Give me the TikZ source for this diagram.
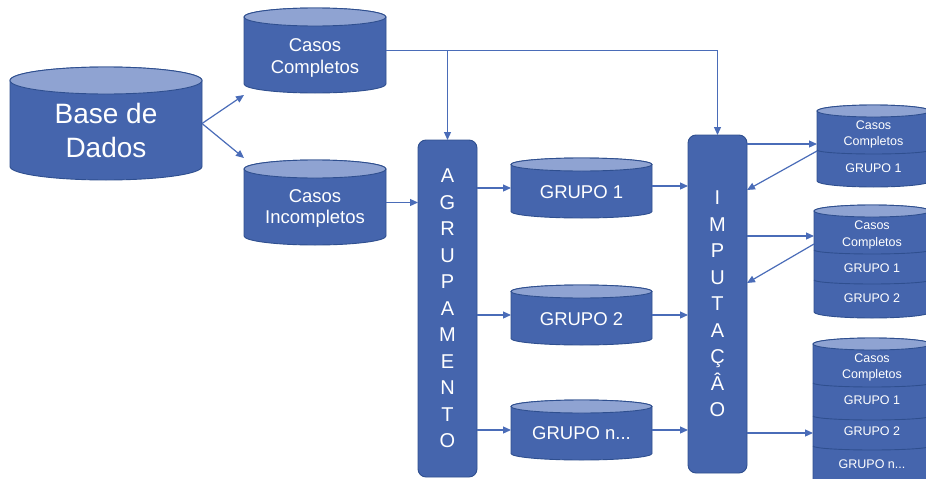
\documentclass[tikz,border=0pt]{standalone}
\usepackage{fontspec}
\setmainfont{Liberation Sans}
\usetikzlibrary{arrows.meta,calc}
\definecolor{bodyc}{HTML}{4565AD}
\definecolor{topc}{HTML}{8FA3D2}
\definecolor{edgec}{HTML}{2F4F8F}
\definecolor{linkc}{HTML}{4A6CB8}
\newcommand\cylshape[2]{%
  \path[draw=edgec, fill=bodyc, line width=0.9pt] let \p1=(#1.north west), \p2=(#1.south east), \n1={(\x2-\x1)/2} in
    (\x1,\y1-#2) -- (\x1,\y2+#2) arc[start angle=180, end angle=360, x radius=\n1, y radius=#2]
    -- (\x2,\y1-#2) arc[start angle=0, end angle=180, x radius=\n1, y radius=#2] -- cycle;
  \path[draw=edgec, fill=topc, line width=0.9pt] let \p1=(#1.north west), \p2=(#1.south east), \n1={(\x2-\x1)/2} in
    (\x1+\n1,\y1-#2) ellipse[x radius=\n1, y radius=#2];
}
\newcommand\cyldiv[2]{%
  \path[draw=edgec, line width=0.9pt] let \p1=(#1.north west), \p2=(#1.south east), \n1={(\x2-\x1)/2} in
    (\x1,-#2pt+2pt) arc[start angle=180, end angle=360, x radius=\n1, y radius=4pt];
}
\tikzset{
  sb/.style={inner sep=0pt, outer sep=0pt},
  txt/.style={inner sep=0pt, text=white, align=center},
  bigtxt/.style={txt, font=\fontsize{28}{34}\selectfont},
  midtxt/.style={txt, font=\fontsize{18.5}{21.5}\selectfont},
  smalltxt/.style={txt, font=\fontsize{12.5}{16}\selectfont},
  procbox/.style={draw=edgec, fill=bodyc, rounded corners=8pt, line width=0.9pt, text=white,
    inner sep=0pt, outer sep=0pt, minimum width=59pt, align=center, font=\fontsize{20}{26.5}\selectfont},
  arr/.style={draw=linkc, line width=1.2pt, -{Triangle[length=8pt,width=7pt]}},
}
\begin{document}
\begin{tikzpicture}[x=1pt,y=-1pt]
\useasboundingbox (0,0) rectangle (926,479);
% cylinder frames
\node[sb, minimum width=192pt, minimum height=113pt] (bd) at (106,123.5) {};
\node[sb, minimum width=142pt, minimum height=85pt] (cc) at (315,50.5) {};
\node[sb, minimum width=142pt, minimum height=85pt] (ci) at (315,202.5) {};
\node[sb, minimum width=141pt, minimum height=60pt] (g1) at (581.5,188) {};
\node[sb, minimum width=141pt, minimum height=60pt] (g2) at (581.5,315) {};
\node[sb, minimum width=141pt, minimum height=60pt] (gn) at (581.5,430) {};
\node[sb, minimum width=113pt, minimum height=82pt] (r1) at (873.5,146) {};
\node[sb, minimum width=116pt, minimum height=113pt] (r2) at (872,261.5) {};
\node[sb, minimum width=118pt, minimum height=162pt] (r3) at (872,419) {};
\cylshape{bd}{13.5pt}
\cylshape{cc}{9pt}
\cylshape{ci}{9pt}
\cylshape{g1}{6.5pt}
\cylshape{g2}{6.5pt}
\cylshape{gn}{6.5pt}
\cylshape{r1}{6pt}
\cylshape{r2}{6pt}
\cylshape{r3}{6pt}
\cyldiv{r1}{152}
\cyldiv{r2}{252}
\cyldiv{r2}{282}
\cyldiv{r3}{385}
\cyldiv{r3}{418}
\cyldiv{r3}{448}
% texts
\node[bigtxt] (bdt) at (106,130) {Base de\\Dados};
\node[midtxt] (cct) at (315,58.2) {Casos\\Completos};
\node[midtxt] (cit) at (315,208.5) {Casos\\Incompletos};
\node[midtxt] (g1t) at (581.5,192) {GRUPO 1};
\node[midtxt] (g2t) at (581.5,318.7) {GRUPO 2};
\node[midtxt] (gnt) at (581.5,433.3) {GRUPO n...};
\node[smalltxt] (r1t) at (873.5,134.3) {Casos\\Completos};
\node[smalltxt] (r1a) at (873.5,168) {GRUPO 1};
\node[smalltxt, font=\fontsize{12.5}{17}\selectfont] (r2t) at (872,234.8) {Casos\\Completos};
\node[smalltxt] (r2a) at (872,268) {GRUPO 1};
\node[smalltxt] (r2b) at (872,298) {GRUPO 2};
\node[smalltxt] (r3t) at (872,367.3) {Casos\\Completos};
\node[smalltxt] (r3a) at (872,400) {GRUPO 1};
\node[smalltxt] (r3b) at (872,431) {GRUPO 2};
\node[smalltxt] (r3c) at (872,464) {GRUPO n...};
% process boxes
\node[procbox, minimum height=337pt] (agr) at (447.5,308.5) {A\\G\\R\\U\\P\\A\\M\\E\\N\\T\\O};
\node[procbox, minimum height=338pt] (imp) at (717.5,304) {I\\M\\P\\U\\T\\A\\Ç\\Â\\O};
% connector end points
\coordinate (r1in) at ([yshift=2pt]r1.west);
\coordinate (r1out) at ([yshift=-5pt]r1.west);
\coordinate (r2in) at ([yshift=25.5pt]r2.west);
\coordinate (r2out) at ([yshift=17.5pt]r2.west);
\coordinate (r3in) at ([yshift=-14pt]r3.west);
\coordinate (i1back) at ([yshift=114pt]imp.east);
\coordinate (i2back) at ([yshift=21pt]imp.east);
% connectors
\draw[arr] (bd.east) -- ([yshift=-2pt]cc.south west);
\draw[arr] (bd.east) -- ([yshift=2pt]ci.north west);
\draw[arr] (cc.east) -| (imp.north);
\draw[arr] (agr.north |- cc.east) -- (agr.north);
\draw[arr] (ci.east) -- (ci.east -| agr.west);
\draw[arr] (agr.east |- g1.west) -- (g1.west);
\draw[arr] (agr.east |- g2.west) -- (g2.west);
\draw[arr] (agr.east |- gn.west) -- (gn.west);
\draw[arr] ([yshift=2pt]g1.east) -- ([yshift=2pt]g1.east -| imp.west);
\draw[arr] (g2.east) -- (g2.east -| imp.west);
\draw[arr] (gn.east) -- (gn.east -| imp.west);
\draw[arr] (imp.east |- r1in) -- (r1in);
\draw[arr] (r1out) -- (i1back);
\draw[arr] (imp.east |- r2in) -- (r2in);
\draw[arr] (r2out) -- (i2back);
\draw[arr] (imp.east |- r3in) -- (r3in);
\end{tikzpicture}
\end{document}
